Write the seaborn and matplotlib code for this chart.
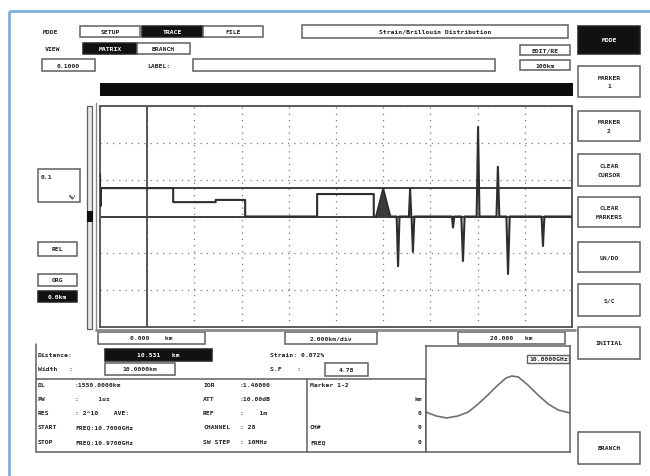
import numpy as np
import pandas as pd
import matplotlib
matplotlib.use("Agg")
import matplotlib.pyplot as plt
from matplotlib.patches import Rectangle
import seaborn as sns

# ---------------- data ----------------
# strain profile along the fibre: level changes (start km, strain %)
step_km = [0.0, 3.1, 4.9, 6.15, 9.2, 11.6]
step_strain = [0.077, 0.039, 0.045, 0.0, 0.061, 0.0]
fiber_end_km = 20.0

# local events on the profile: position (km), peak strain (%), half width (km)
event_km = [0.0, 0.02, 12.0, 12.63, 13.14, 13.26, 14.96, 15.38, 16.02, 16.86, 17.29, 18.77]
event_strain = [0.115, 0.028, 0.075, -0.135, 0.075, -0.096, -0.030, -0.121, 0.243, 0.135, -0.156, -0.080]
event_halfwidth = [0.0, 0.01, 0.3, 0.06, 0.05, 0.06, 0.05, 0.07, 0.06, 0.06, 0.07, 0.06]

reference_levels = [0.0, 0.077]   # solid horizontal lines
cursor_km = 2.0

# Brillouin gain spectrum at the cursor
freq_ghz = [10.700, 10.719, 10.739, 10.760, 10.779, 10.798, 10.816, 10.835,
            10.850, 10.861, 10.873, 10.891, 10.910, 10.929, 10.948, 10.970]
gain_rel = [0.377, 0.340, 0.321, 0.340, 0.377, 0.453, 0.538, 0.632,
            0.698, 0.717, 0.708, 0.632, 0.538, 0.453, 0.396, 0.368]

right_buttons = ["MARKER\n1", "MARKER\n2", "CLEAR\nCURSOR", "CLEAR\nMARKERS",
                 "UN/DO", "S/C", "INITIAL", "BRANCH"]

table_rows = [
    ("DL", ":1550.0000km", "IOR", ":1.46000"),
    ("PW", ":     1us", "ATT", ":10.00dB"),
    ("RES", ": 2^10    AVE:", "REF", ":    1m"),
    ("START", "FREQ:10.7000GHz", "CHANNEL", ": 28"),
    ("STOP", "FREQ:10.9700GHz", "SW STEP", ": 10MHz"),
]
marker_rows = [("Marker 1-2", ""), ("", "km"), ("", "0"), ("CH#", "0"), ("FREQ", "0")]

# ---------------- build trace ----------------
edges = step_km[1:] + [fiber_end_km]
base_pts = []
for s, e, lv in zip(step_km, edges, step_strain):
    base_pts += [(s, lv), (e, lv)]


def level_at(km):
    lv = step_strain[0]
    for s, v in zip(step_km, step_strain):
        if km >= s:
            lv = v
    return lv


ev_pts = []
for k, p, w in zip(event_km, event_strain, event_halfwidth):
    b = level_at(k)
    ev_pts += [(k - w, b), (k, p), (k + w, b)]

trace = pd.DataFrame(base_pts + ev_pts, columns=["km", "strain"])
trace = trace.sort_values("km", kind="mergesort").reset_index(drop=True)
spectrum = pd.DataFrame({"freq": freq_ghz, "gain": gain_rel})

# ---------------- figure ----------------
sns.set_style("white")
plt.rcParams["font.family"] = ["DejaVu Sans Mono"]
plt.rcParams["font.weight"] = "bold"

W, H = 650, 477
fig = plt.figure(figsize=(W / 100, H / 100), dpi=100)
fig.patch.set_facecolor("white")

ov = fig.add_axes([0, 0, 1, 1])
ov.set_xlim(0, W)
ov.set_ylim(H, 0)
ov.axis("off")

EDGE = "#5f5f5f"
FS = 4.6


def box(x0, y0, x1, y1, text="", dark=False, fs=FS, ha="center", lw=1.1):
    ov.add_patch(Rectangle((x0, y0), x1 - x0, y1 - y0,
                           facecolor="#111111" if dark else "white",
                           edgecolor="#222222" if dark else EDGE, lw=lw))
    if text:
        tx = (x0 + x1) / 2 if ha == "center" else x0 + 3
        ov.text(tx, (y0 + y1) / 2, text, ha=ha, va="center", fontsize=fs,
                color="white" if dark else "#222222", fontweight="bold",
                linespacing=1.9)


def label(x, y, text, ha="left", fs=FS, color="#222222"):
    ov.text(x, y, text, ha=ha, va="center", fontsize=fs, color=color,
            fontweight="bold")


# outer blue frame
ov.plot([9, 9], [H, 12], color="#7fb0e0", lw=2.0, solid_capstyle="butt")
ov.plot([9, W], [12, 12], color="#7fb0e0", lw=2.0, solid_capstyle="butt")

# top rows
label(43, 32.5, "MODE")
box(80, 27, 140, 38, "SETUP")
box(142, 27, 203, 38, "TRACE", dark=True)
box(203, 27, 263, 38, "FILE")
box(302, 26, 568, 39, "Strain/Brillouin Distribution")
label(45, 49.5, "VIEW")
box(83, 44, 137, 55, "MATRIX", dark=True)
box(137, 44, 190, 55, "BRANCH")
box(42, 60, 95, 72, "0.1000")
label(147, 66, "LABEL:")
box(193, 60, 495, 72)
box(520, 46, 570, 56, "EDIT/RE")
box(520, 61, 570, 71, "100km")
ov.add_patch(Rectangle((100, 84), 473, 13, facecolor="#0d0d0d", edgecolor="none"))

# right-hand soft keys
box(578, 27, 640, 55, "MODE", dark=True)
key_rows = [(67, 98), (112, 142), (155, 187), (198, 228),
            (243, 273), (285, 317), (328, 360), (433, 465)]
for (y0, y1), t in zip(key_rows, right_buttons):
    box(578, y0, 640, y1, t)

# left scale keys and scroll bar
box(38, 170, 80, 203)
label(41, 178, "0.1")
label(77, 197, "%/", ha="right")
box(38, 243, 77, 257, "REL")
box(38, 275, 77, 287, "ORG")
box(38, 292, 77, 303, "0.0km", dark=True)
ov.add_patch(Rectangle((87, 107), 5, 223, facecolor="#e6e6e6", edgecolor=EDGE, lw=0.9))
ov.add_patch(Rectangle((86.5, 212), 6, 11, facecolor="#111111", edgecolor="none"))
ov.plot([96, 96], [104, 331], color="#8a8a8a", lw=1.0)
ov.plot([96, 575], [331, 331], color="#8a8a8a", lw=2.0)

# distance scale under the trace
box(98, 333, 205, 345, "0.000    km")
box(285, 333, 377, 345, "2.000km/div")
box(458, 333, 565, 345, "20.000   km")

# readout panel
label(38, 356, "Distance:")
box(105, 350, 212, 362, "10.531   km", dark=True)
label(270, 356, "Strain: 0.072%")
label(38, 370, "Width   :")
box(105, 364, 175, 376, "10.0000km")
label(270, 370, "S.F    :")
box(325, 364, 368, 377, "4.78")
ov.add_patch(Rectangle((36, 380), 390, 73, facecolor="none", edgecolor=EDGE, lw=1.1))
ov.plot([36, 36], [345, 380], color=EDGE, lw=1.1)
ov.plot([307, 307], [380, 453], color=EDGE, lw=1.1)
row_y = [386, 400, 414, 428, 443]
for y, (a, b, c, d) in zip(row_y, table_rows):
    label(38, y, a)
    label(75, y, b)
    label(203, y, c)
    label(240, y, d)
for y, (a, b) in zip(row_y, marker_rows):
    if a:
        label(310, y, a)
    if b:
        label(422, y, b, ha="right")

# ---------------- main strain trace ----------------
ax = fig.add_axes([100 / W, 1 - 328 / H, 472 / W, 221 / H])
ax.set_facecolor("white")
ax.set_xlim(0, fiber_end_km)
ax.set_ylim(-0.3, 0.3)
ax.set_xticks(np.arange(0, fiber_end_km + 0.1, 2.0))
ax.set_yticks(np.arange(-0.3, 0.31, 0.1))
ax.grid(True, color="#7a7a7a", lw=0.9, linestyle=(0, (1, 4)))
ax.tick_params(length=0, labelbottom=False, labelleft=False)
for sp in ax.spines.values():
    sp.set_color("#5a5a5a")
    sp.set_linewidth(1.4)
for lv in reference_levels:
    ax.axhline(lv, color="#3d3d3d", lw=1.4, zorder=2)
ax.axvline(cursor_km, color="#4a4a4a", lw=1.3, zorder=2)
# the broad strain bump near 12 km shows up as a solid wedge
bump = trace[(trace["km"] >= 11.6) & (trace["km"] <= 12.4)]
ax.fill_between(bump["km"], 0, bump["strain"], color="#3a3a3a", lw=0, zorder=3)
sns.lineplot(data=trace, x="km", y="strain", sort=False, estimator=None,
             color="#2e2e2e", lw=1.5, ax=ax, zorder=3)
ax.set_xlabel("")
ax.set_ylabel("")

# ---------------- spectrum inset ----------------
sx = fig.add_axes([426 / W, 1 - 453 / H, 144 / W, 106 / H])
sx.set_facecolor("white")
sns.lineplot(data=spectrum, x="freq", y="gain", color="#707070", lw=1.2, ax=sx)
sx.set_xlim(freq_ghz[0], freq_ghz[-1])
sx.set_ylim(0, 1)
sx.set_xticks([])
sx.set_yticks([])
sx.set_xlabel("")
sx.set_ylabel("")
for sp in sx.spines.values():
    sp.set_color(EDGE)
    sp.set_linewidth(1.1)
sx.text(0.985, 0.88, "10.8000GHz", transform=sx.transAxes, ha="right", va="center",
        fontsize=FS, fontweight="bold", color="#222222",
        bbox=dict(boxstyle="square,pad=0.25", fc="white", ec=EDGE, lw=1.0))

fig.savefig("out.png", dpi=100, facecolor="white")
